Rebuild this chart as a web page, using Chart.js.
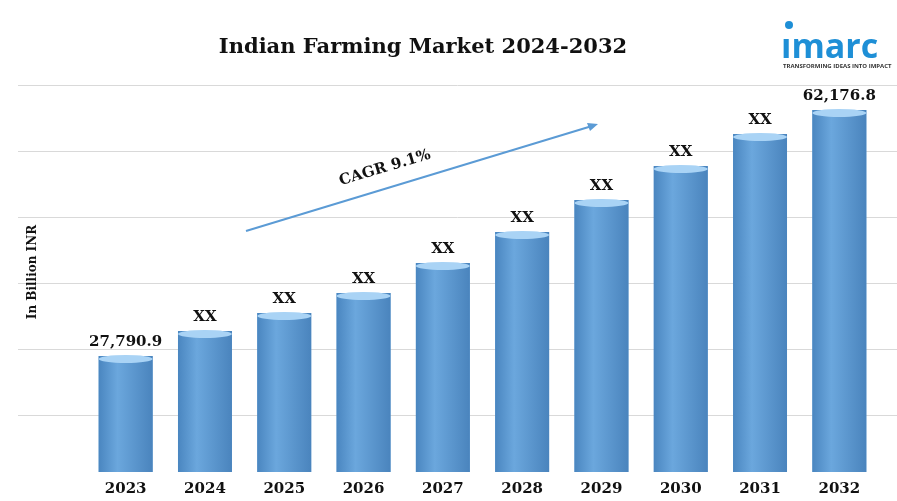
<!DOCTYPE html>
<html><head><meta charset="utf-8">
<script src="https://cdn.jsdelivr.net/npm/chart.js@4/dist/chart.umd.min.js"></script>
<style>html,body{margin:0;padding:0;background:#fff}#w{width:897px;height:501px;position:relative}</style>
</head><body><div id="w"><canvas id="c"></canvas></div>
<script>
const categories=['2023','2024','2025','2026','2027','2028','2029','2030','2031','2032'];
const values=[27790.9,31286,33802,36598,40792,45126,49600,54353,58826,62176.8];
const barLabels=['27,790.9','XX','XX','XX','XX','XX','XX','XX','XX','62,176.8'];
const gridValues=[65677,56450,47223,37996,28769,19542];

const serif='"DejaVu Serif","Liberation Serif",serif';
const deco={id:'deco',
 beforeDatasetsDraw(ch){
  const ctx=ch.ctx,y=ch.scales.y;ctx.save();ctx.strokeStyle='#d9d9d9';ctx.lineWidth=1;
  gridValues.forEach(v=>{const p=Math.round(y.getPixelForValue(v))+0.5;ctx.beginPath();ctx.moveTo(18,p);ctx.lineTo(897,p);ctx.stroke();});
  ctx.restore();
 },
 afterDatasetsDraw(ch){
  const ctx=ch.ctx,meta=ch.getDatasetMeta(0),bottom=ch.chartArea.bottom;
  ctx.save();
  meta.data.forEach((b,i)=>{
    const w=b.width,l=b.x-w/2;
    const g=ctx.createLinearGradient(l,0,l+w,0);
    g.addColorStop(0,'#4a86c0');g.addColorStop(0.35,'#6ba7dd');g.addColorStop(1,'#4a84bd');
    ctx.fillStyle=g;ctx.fillRect(l,b.y,w,bottom-b.y);
    ctx.fillStyle='#a9d3f5';
    ctx.beginPath();ctx.ellipse(b.x,b.y+3,w/2,4,0,0,Math.PI*2);ctx.fill();
    ctx.fillStyle='#111';ctx.font='bold 15px '+serif;ctx.textAlign='center';ctx.textBaseline='bottom';
    ctx.fillText(barLabels[i],b.x,b.y-6);
    ctx.textBaseline='middle';ctx.fillText(categories[i],b.x,489);
  });
  ctx.fillStyle='#111';ctx.font='bold 21px '+serif;ctx.textAlign='center';ctx.textBaseline='middle';
  ctx.fillText('Indian Farming Market 2024-2032',423,48);
  ctx.save();ctx.translate(33,272);ctx.rotate(-Math.PI/2);ctx.font='bold 12px '+serif;ctx.fillText('In Billion INR',0,0);ctx.restore();
  ctx.strokeStyle='#5b9bd5';ctx.fillStyle='#5b9bd5';ctx.lineWidth=2;
  ctx.beginPath();ctx.moveTo(246,231);ctx.lineTo(592,126);ctx.stroke();
  ctx.beginPath();ctx.moveTo(598,124);ctx.lineTo(587,123);ctx.lineTo(590,131);ctx.closePath();ctx.fill();
  ctx.save();ctx.translate(385,168);ctx.rotate(-0.29);ctx.fillStyle='#111';ctx.font='bold 15px '+serif;ctx.fillText('CAGR 9.1%',0,0);ctx.restore();
  ctx.fillStyle='#1e8fd6';ctx.font='bold 34px "Open Sans",sans-serif';ctx.textAlign='left';ctx.textBaseline='alphabetic';
  ctx.fillText('ımarc',781,58);
  ctx.beginPath();ctx.arc(789,25,4,0,Math.PI*2);ctx.fill();
  ctx.fillStyle='#333';ctx.font='bold 6px "Open Sans",sans-serif';ctx.fillText('TRANSFORMING IDEAS INTO IMPACT',783,68);
  ctx.restore();
}};
new Chart(document.getElementById('c'),{
  type:'bar',
  data:{labels:categories,datasets:[{data:values,backgroundColor:'#5b9bd5',barPercentage:0.68,categoryPercentage:1}]},
  options:{responsive:true,maintainAspectRatio:false,animation:false,
    layout:{padding:{left:86,right:18,top:85,bottom:29}},
    plugins:{legend:{display:false},tooltip:{enabled:false}},
    scales:{x:{display:false},
      y:{display:false,min:11574,max:65677}}},
  plugins:[deco]
});
</script></body></html>
